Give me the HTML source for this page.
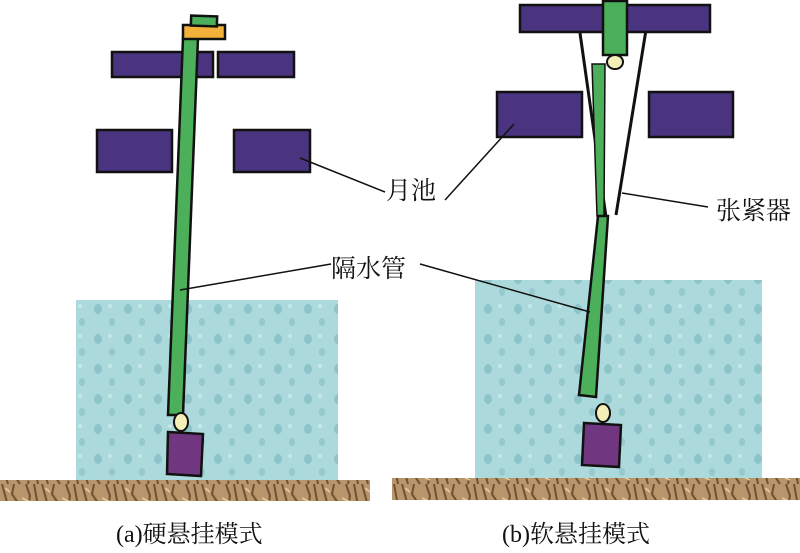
<!DOCTYPE html>
<html><head><meta charset="utf-8"><style>
body{margin:0;background:#fff;}
svg{display:block}
text{font-family:"Liberation Serif","Noto Serif CJK SC",serif;fill:#111}
</style></head><body>
<svg width="800" height="553" viewBox="0 0 800 553" xmlns="http://www.w3.org/2000/svg">
<defs>
<pattern id="rock" width="40" height="22" patternUnits="userSpaceOnUse">
<rect width="40" height="22" fill="#b8956a"/>
<path d="M2 0 L8 22 M14 0 L12 10 L20 22 M26 0 L30 12 L28 22 M34 0 L38 22" stroke="#6f5233" stroke-width="2" fill="none"/>
<path d="M5 4 L10 8 M22 14 L30 18" stroke="#e0c49a" stroke-width="2"/>
</pattern>
<pattern id="drops" width="30" height="30" patternUnits="userSpaceOnUse">
<rect width="30" height="30" fill="#acd9dc"/>
<ellipse cx="8" cy="9" rx="4" ry="5" fill="#8cc4c9"/>
<ellipse cx="22" cy="22" rx="3" ry="4" fill="#94c9cd"/>
<ellipse cx="20" cy="6" rx="2" ry="2" fill="#c5e8ea"/>
</pattern>
</defs>
<g stroke="#111" stroke-width="2.5">
<rect x="76" y="300" width="262" height="180" fill="url(#drops)" stroke="none"/>
<rect x="0" y="480" width="370" height="21" fill="url(#rock)" stroke="none"/>
<rect x="475" y="280" width="287" height="198" fill="url(#drops)" stroke="none"/>
<rect x="392" y="478" width="408" height="22" fill="url(#rock)" stroke="none"/>

<rect x="112" y="52" width="101" height="25" fill="#4a347f"/>
<rect x="218" y="52" width="76" height="25" fill="#4a347f"/>
<rect x="97" y="130" width="75" height="42" fill="#4a347f"/>
<rect x="234" y="130" width="76" height="42" fill="#4a347f"/>
<polygon points="183,38 198,38 183,415 168,415" fill="#4caf5a"/>
<rect x="183" y="25" width="42" height="14" fill="#f2b13a"/>
<rect x="191" y="16" width="26" height="10" fill="#4caf5a" transform="rotate(2 204 21)"/>
<ellipse cx="181" cy="422" rx="7" ry="9" fill="#f4efb6" stroke-width="2"/>
<polygon points="168,432 203,434 201,476 167,474" fill="#70367f"/>

<line x1="580" y1="33" x2="606" y2="217" stroke-width="3"/>
<line x1="646" y1="30" x2="616" y2="215" stroke-width="3"/>
<rect x="520" y="5" width="190" height="27" fill="#4a347f"/>
<rect x="497" y="92" width="85" height="45" fill="#4a347f"/>
<rect x="649" y="92" width="84" height="45" fill="#4a347f"/>
<rect x="603" y="1" width="24" height="54" fill="#4caf5a"/>
<ellipse cx="615" cy="62" rx="8" ry="7" fill="#f4efb6" stroke-width="2"/>
<polygon points="592,64 605,64 604,216 597,216" fill="#4caf5a" stroke-width="1.5"/>
<polygon points="598,216 608,216 596,397 579,395" fill="#4caf5a"/>
<ellipse cx="603" cy="413" rx="7" ry="9" fill="#f4efb6" stroke-width="2"/>
<polygon points="584,423 621,425 619,467 582,465" fill="#70367f"/>

<g stroke-width="1.5">
<line x1="300" y1="158" x2="385" y2="192"/>
<line x1="180" y1="290" x2="331" y2="264"/>
<line x1="420" y1="264" x2="590" y2="312"/>
<line x1="514" y1="124" x2="445" y2="200"/>
<line x1="622" y1="193" x2="708" y2="207"/>
</g>
</g>
<text x="386" y="199" font-size="25">月池</text>
<text x="331" y="277" font-size="25">隔水管</text>
<text x="716" y="219" font-size="25">张紧器</text>
<text x="116" y="542" font-size="24">(a)硬悬挂模式</text>
<text x="502" y="542" font-size="24">(b)软悬挂模式</text>
</svg>
</body></html>
